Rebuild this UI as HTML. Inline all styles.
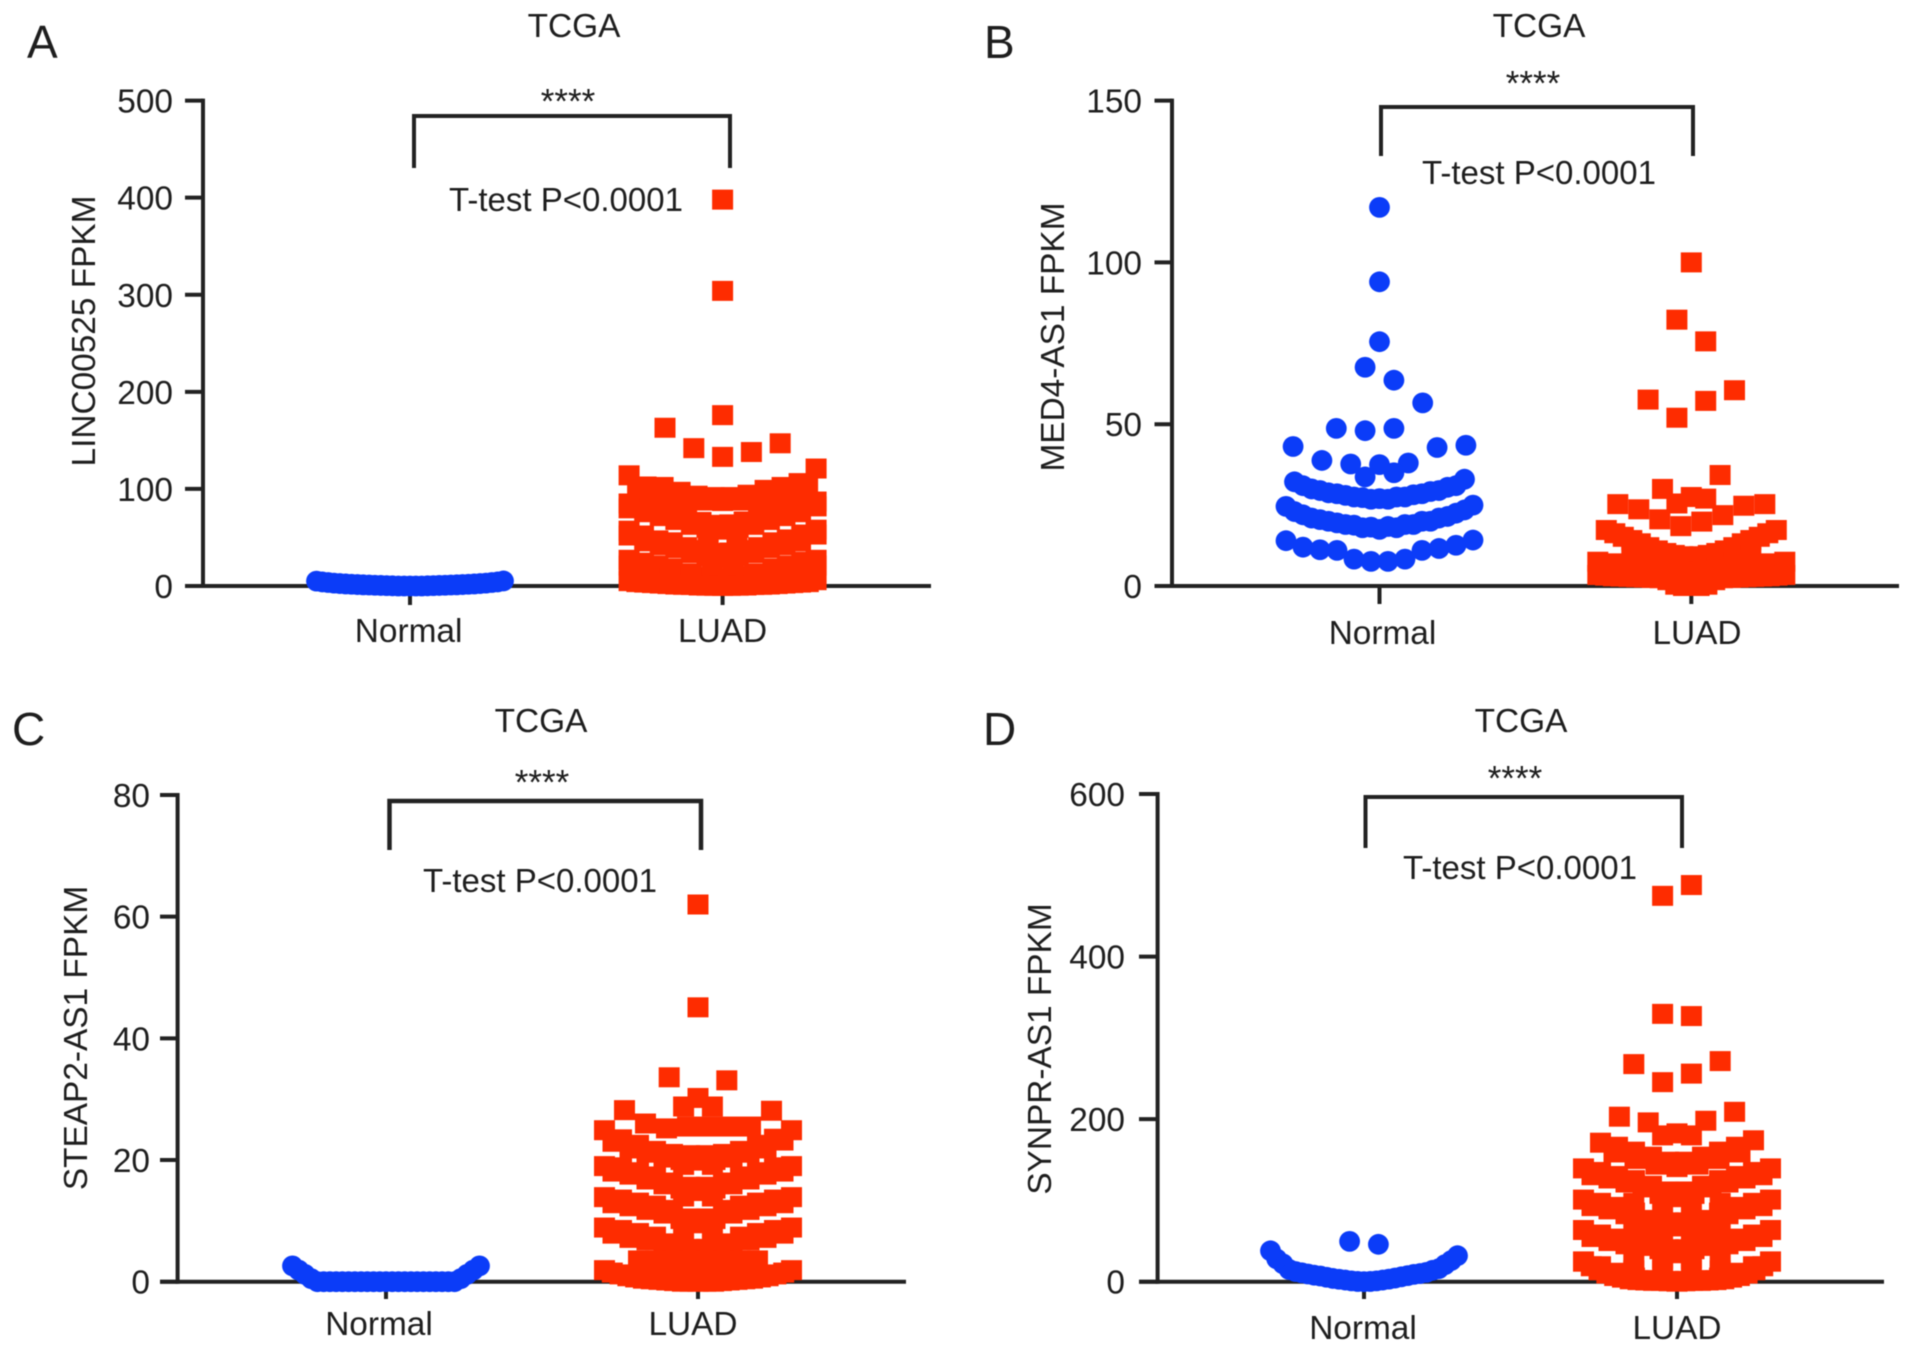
<!DOCTYPE html>
<html lang="en">
<head>
<meta charset="utf-8">
<title>TCGA FPKM scatter panels</title>
<style>
html,body{margin:0;padding:0;background:#fff;width:1913px;height:1353px;overflow:hidden}
svg{display:block;filter:blur(.6px)}
text{font-family:"Liberation Sans",Arial,sans-serif;fill:#1e1e1e}
.t{font-size:33.4px}.p{font-size:46px}.s{font-size:33px}.a{font-size:35px}
</style>
</head>
<body>
<svg id="figure" width="1913" height="1353" viewBox="0 0 1913 1353" xmlns="http://www.w3.org/2000/svg">
<rect x="0" y="0" width="1913" height="1353" fill="#fff"/>

<g>
<text class="p" x="27" y="58">A</text>
<text class="t" x="574" y="37" text-anchor="middle">TCGA</text>
<text class="t" transform="translate(95,331) rotate(-90)" text-anchor="middle">LINC00525 FPKM</text>
<polyline points="414,168 414,116 730,116 730,168" fill="none" stroke="#222" stroke-width="4"/>
<text class="a" x="568" y="113.5" text-anchor="middle">****</text>
<text class="s" x="566" y="211" text-anchor="middle">T-test P&lt;0.0001</text>
<g id="plot-a"></g>
</g>

<g>
<text class="p" x="984" y="58">B</text>
<text class="t" x="1539" y="37" text-anchor="middle">TCGA</text>
<text class="t" transform="translate(1064,337) rotate(-90)" text-anchor="middle">MED4-AS1 FPKM</text>
<polyline points="1381,156 1381,107 1693,107 1693,156" fill="none" stroke="#222" stroke-width="4"/>
<text class="a" x="1533" y="95.5" text-anchor="middle">****</text>
<text class="s" x="1539" y="184" text-anchor="middle">T-test P&lt;0.0001</text>
<g id="plot-b"></g>
</g>

<g>
<text class="p" x="12" y="745">C</text>
<text class="t" x="541" y="732" text-anchor="middle">TCGA</text>
<text class="t" transform="translate(87,1038) rotate(-90)" text-anchor="middle">STEAP2-AS1 FPKM</text>
<polyline points="389.5,850 389.5,801 701,801 701,850" fill="none" stroke="#222" stroke-width="4.5"/>
<text class="a" x="542" y="794.5" text-anchor="middle">****</text>
<text class="s" x="540" y="892" text-anchor="middle">T-test P&lt;0.0001</text>
<g id="plot-c"></g>
</g>

<g>
<text class="p" x="983" y="745">D</text>
<text class="t" x="1521" y="732" text-anchor="middle">TCGA</text>
<text class="t" transform="translate(1051,1049) rotate(-90)" text-anchor="middle">SYNPR-AS1 FPKM</text>
<polyline points="1365.5,848 1365.5,797 1682,797 1682,848" fill="none" stroke="#222" stroke-width="4"/>
<text class="a" x="1515" y="790.5" text-anchor="middle">****</text>
<text class="s" x="1520" y="879" text-anchor="middle">T-test P&lt;0.0001</text>
<g id="plot-d"></g>
</g>
</svg>

<script>
// Category labels and y tick labels
const categories = ['Normal', 'LUAD'];
const ticksA = [0, 100, 200, 300, 400, 500];
const ticksB = [0, 50, 100, 150];
const ticksC = [0, 20, 40, 60, 80];
const ticksD = [0, 200, 400, 600];

// FPKM values. Each inner list is one bin of the
// dot plot, centre-most dot first, then alternating left / right.
// null leaves a slot in a bin empty.
const normalA = [
  [0,0,0,0,0,0.2,0.2,0.4,0.4,0.6,0.6,0.8,0.8,1,1,1.2,1.2,1.5,1.5,1.8,1.8,2.1,2.1,2.5,2.5,3,3,3.6,3.6,4.2,4.2,5,5.2]
];
const luadA = [
  [398],[304],[176],
  [133,142,138,163,147],
  [91.6,91.6,93,94,97,99,102,102,102.5,106,114,121],
  [87.5,88,88,90,90,93,94,97,98,99,101],
  [63,63.5,66,66.5,70,70,75,75,78,79,82,83,85,87],
  [58,60,60,63,63,68,68,72,72,76,76,80,82],
  [44,44],
  [34,34.5,37,37,40,40,45,45,47,48,52,53,57,58],
  [29,31,31,34,34,39,39,42,42,46,46,52,53],
  [8,8,9,10,13,13,18,18,21,21,24,25,27,27],
  [4,4,4,6,6,10,10,13,13,16,16,21,21],
  [22,22,12,12,10,10,8,8],
  [0,0.2,0.2,0.3,0.3,0.5,0.5,1,1,1.2,1.2,1.5,1.5,2,2,2.5,2.5,3,3,3.5,3.5,4,4,5,6]
];
const normalB = [
  [117],[94],[75.5],
  [67.6,63.6,null,56.6],
  [48,48.7,48.7,null],
  [37.5,37.7,38,38.8,42.8,43.1,43.5],
  [33.7,35],
  [27,27.3,27.5,28,28.2,28.8,29.2,30,30.5,32.2,33],
  [26.8,26.8,27.5,27.5,28.5,28.5,29.5,29.5,31,31],
  [18.2,18.4,18.8,19,19.5,20,20.5,21,22,22.5,24.6,25],
  [17.5,18,18,19,19,20,20,21,21.5,23,23.5],
  [7.6,7.6,8.3,8.3,11,11,11.2,11.6,12,12.6,14,14.2]
];
const luadB = [
  [100],[82.3,75.6],
  [52,57.2,57.6,60.5],
  [27.5,30,34.3],
  [25.5,27],
  [18.5,19.9,20.6,21.9,23.7,24.8,25.3,25.3],
  [9,9.6,9.6,11,11,13.2,13.2,15.2,15.2,17.3,17.3],
  [9.2,9.2,10.2,10.2,12,12,14.2,14.2,16.3,16.3],
  [4.5,4.5,5.5,5.5,7.5,7.5,9.5,9.5,null,null],
  [3,3,4,4,5,5,5.5,5.5,6,6,7,7,7.5,7.5],
  [0,0,0,0.4,0.4,1.8,1.8,2.4,2.4,2.5,2.5,2.6,2.6,2.7,2.7,2.8,2.8,2.9,2.9,3,3,3.2,3.2,3.4,3.4]
];
const normalC = [
  [0,0,0,0,0,0,0,0,0,0,0,0,0,0,0,0,0,0,0,0,0,0,0,0.5,0.5,1.2,1.2,1.9,1.9,2.6,2.6]
];
const luadC = [
  [62],[45.1],
  [30.2,33.6,33.1],
  [28.8,28.8],
  [25.5,25.5,25.2,25.5,26,25.5,28.2,28.1],
  [20.8,20.8,21,21,21.5,21.5,22.5,22.5,23.4,23.5,24.9,24.9],
  [19.9,20,20,20.4,20.4,21.2,21.2,21.9,21.9,23,23.2],
  [19.2,19.2],
  [15.6,15.6,16.3,16.3,17.3,17.3,18,18,18.8,18.8,19,19],
  [14.9,15.3,15.3,16,16,16.8,16.8,17.6,17.6,18.1,18.1],
  [14,14],
  [10.4,10.4,11.8,11.8,12.5,12.5,13,13,13.5,13.5,13.9,13.9],
  [9.6,10.3,10.3,11.2,11.2,11.8,11.8,12.4,12.4,12.9,12.9],
  [8.4,8.4],
  [5.4,5.4,6.3,6.3,7.4,7.4,8,8,8.5,8.5,8.9,8.9],
  [4.6,5.2,5.2,6.1,6.1,6.8,6.8,7.2,7.2,7.9,7.9],
  [3.5,3.5,3.5,3.5,3.5,3.5,3.5,3.5,null,null],
  [1.9,1.9,1.9,1.9,1.9,1.9,1.9,1.9,null,null],
  [0,0,0,0,0,0.1,0.1,0.2,0.2,0.3,0.3,0.4,0.4,0.5,0.5,0.7,0.7,0.9,0.9,1.2,1.2,1.5,1.5,1.9,1.9]
];
const normalD = [
  [49.6,46],
  [0,0.3,0.3,1,1,2,2,3,3.2,4,4.5,5.5,6,7,7.5,8,9,9.5,10,11,11.5,12.5,14,15,16,22,21,28,26,38,32]
];
const luadD = [
  [474.7,488],
  [329.5,326.8],
  [245.5,256,267.7,271.4],
  [182.5,196,198,203,209],
  [180,180],
  [147.6,147.6,153.8,153.8,160,160,166,166,171,174],
  [141,144,144,151,151,159,159,null,null],
  [111,111,118,118,125,125,130,130,135,135,139.4,139.4],
  [104,108,108,116,116,122,122,127,127,131,131],
  [97,97,97,97],
  [73,73,76,76,85,85,92,92,97,97,101,101],
  [68,69,69,75,75,83,83,89,89,93,93],
  [60,60,60,60],
  [40,40,51,51,50,50,53,53,58,58,63.6,63.6],
  [35,40,40,44,44,46,46,50,50,55,55],
  [28,28,28,28],
  [14,14,14,14],
  [1,1,2,2,5,5,11,11,19,19,24.6,24.6],
  [0,0.5,0.5,1,1,1,1,1.5,1.5,2,2,3,3,5,5,7,7,10,10,14,14,19,19,25,25]
];

// Panel geometry (pixels) lives apart from the data.
const panelLayouts = [
  {key:'a', group:'plot-a', ticks:ticksA, normal:normalA, luad:luadA, axisX:203, y0:586, yTop:100.6, yMax:500, tickLeft:185, axisEnd:931, xNormal:410, xLuad:722.6, tickBottom:605, labelRight:173, labelNormal:408.6, labelLuad:722.6, labelBase:642},
  {key:'b', group:'plot-b', ticks:ticksB, normal:normalB, luad:luadB, axisX:1172, y0:586, yTop:100.6, yMax:150, tickLeft:1154.5, axisEnd:1899, xNormal:1379.5, xLuad:1691.3, tickBottom:604, labelRight:1142, labelNormal:1382.5, labelLuad:1697, labelBase:644},
  {key:'c', group:'plot-c', ticks:ticksC, normal:normalC, luad:luadC, axisX:177.6, y0:1281.7, yTop:795, yMax:80, tickLeft:160, axisEnd:906, xNormal:386, xLuad:698, tickBottom:1299, labelRight:150, labelNormal:379, labelLuad:693, labelBase:1335},
  {key:'d', group:'plot-d', ticks:ticksD, normal:normalD, luad:luadD, axisX:1157.6, y0:1281.7, yTop:794, yMax:600, tickLeft:1139, axisEnd:1884, xNormal:1364, xLuad:1677, tickBottom:1299, labelRight:1125, labelNormal:1363, labelLuad:1677, labelBase:1339}
];

const NS = 'http://www.w3.org/2000/svg';
const RED = '#fe2c00';
const BLUE = '#0b3cf8';
const INK = '#222';

function mk(tag) { return document.createElementNS(NS, tag); }

function yScale(p) {
  return function (v) { return p.y0 - (v / p.yMax) * (p.y0 - p.yTop); };
}
// Spacing between neighbouring dots in a bin of n slots
function binStep(n) {
  if (n <= 7) return 28.8;
  if (n <= 9) return 21;
  return Math.min(17, 187 / (n - 1));
}
// Slot index of the i-th dot in a bin of n slots
function binSlot(i, n) {
  if (n % 2 === 1) {
    if (i === 0) return 0;
    return i % 2 === 1 ? -(i + 1) / 2 : i / 2;
  }
  return i % 2 === 0 ? -(i / 2 + 0.5) : (i - 1) / 2 + 0.5;
}
function line(parent, x1, y1, x2, y2, w) {
  const l = mk('line');
  l.setAttribute('x1', x1);
  l.setAttribute('y1', y1);
  l.setAttribute('x2', x2);
  l.setAttribute('y2', y2);
  l.setAttribute('stroke', INK);
  l.setAttribute('stroke-width', w);
  parent.appendChild(l);
  return l;
}

panelLayouts.forEach(function (p) {
  const g = document.getElementById(p.group);
  const y = yScale(p);

  const yAxis = line(g, p.axisX, p.yTop - 2, p.axisX, p.y0 + 2, 4);
  
  
  const xAxis = line(g, p.tickLeft, p.y0, p.axisEnd, p.y0, 4);
  
  

  p.ticks.forEach(function (t) {
    const tick = line(g, p.tickLeft, y(t), p.axisX, y(t), 4);
    
    
    const label = mk('text');
    label.setAttribute('class', 't');
    label.setAttribute('x', p.labelRight);
    label.setAttribute('y', y(t) + 12);
    label.setAttribute('text-anchor', 'end');
    label.textContent = t;
    
    
    g.appendChild(label);
  });

  [p.xNormal, p.xLuad].forEach(function (cx, c) {
    const tick = line(g, cx, p.y0, cx, p.tickBottom, 4);
    
    
    const label = mk('text');
    label.setAttribute('class', 't');
    label.setAttribute('x', c === 0 ? p.labelNormal : p.labelLuad);
    label.setAttribute('y', p.labelBase);
    label.setAttribute('text-anchor', 'middle');
    label.textContent = categories[c];
    
    
    g.appendChild(label);
  });

  p.normal.forEach(function (bin) {
    const step = binStep(bin.length);
    bin.forEach(function (v, i) {
      if (v === null) return;
      const dot = mk('circle');
      dot.setAttribute('cx', p.xNormal + binSlot(i, bin.length) * step);
      dot.setAttribute('cy', y(v));
      dot.setAttribute('r', 10.4);
      dot.setAttribute('fill', BLUE);
      
      
      g.appendChild(dot);
    });
  });

  p.luad.forEach(function (bin) {
    const step = binStep(bin.length);
    bin.forEach(function (v, i) {
      if (v === null) return;
      const sq = mk('rect');
      sq.setAttribute('x', p.xLuad + binSlot(i, bin.length) * step - 10.5);
      sq.setAttribute('y', y(v) - 10);
      sq.setAttribute('width', 21);
      sq.setAttribute('height', 20);
      sq.setAttribute('fill', RED);
      
      
      g.appendChild(sq);
    });
  });
});
</script>
</body>
</html>
